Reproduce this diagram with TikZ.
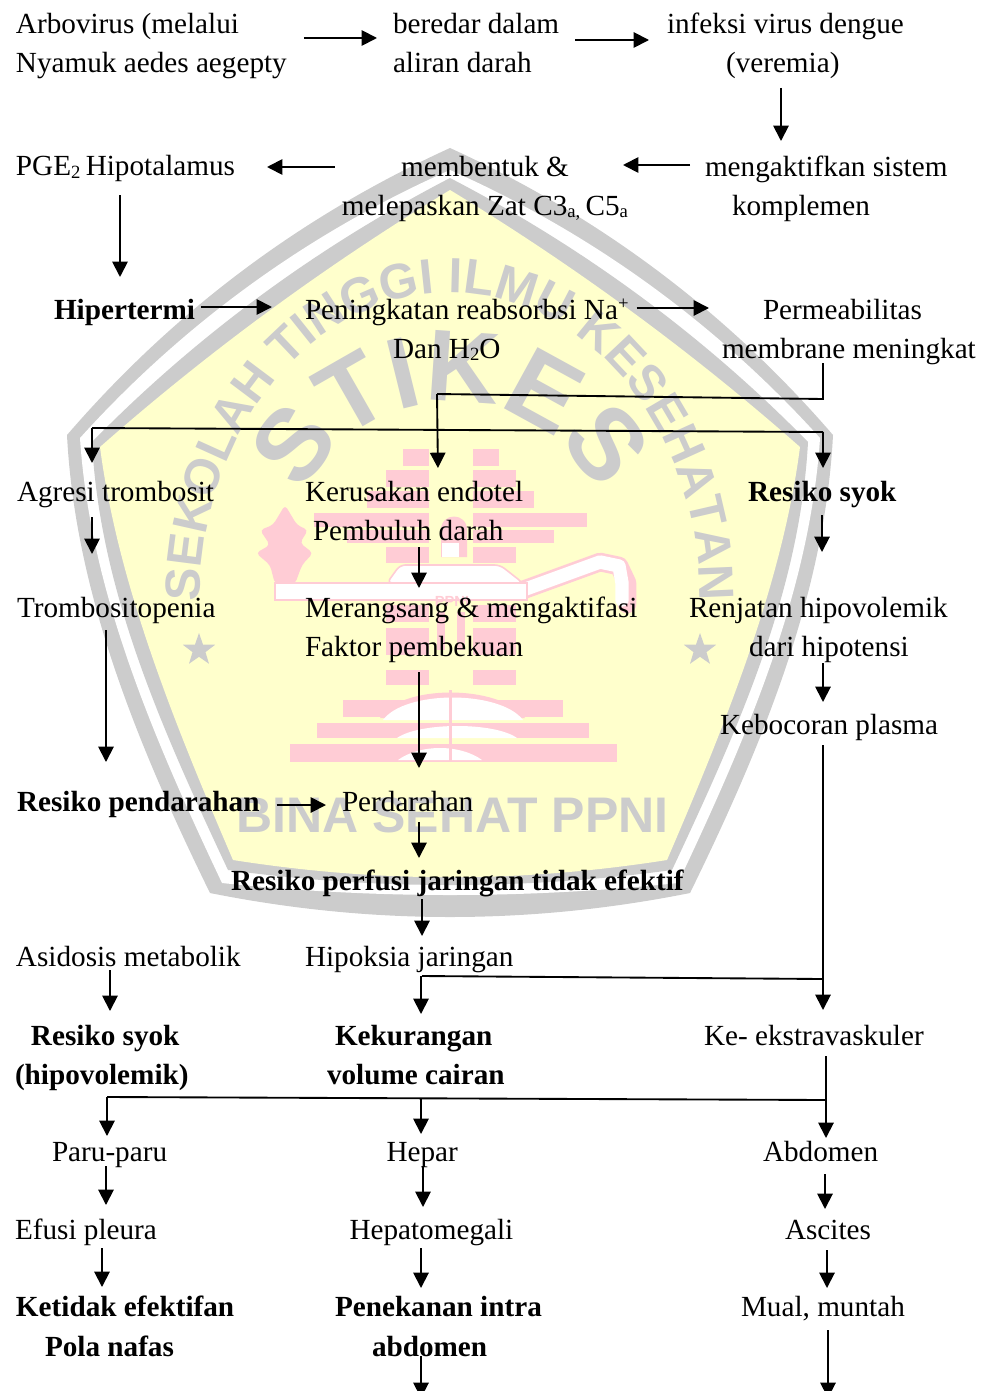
\documentclass[tikz,border=0pt]{standalone}
\usepackage{fontspec}
\setmainfont{Liberation Serif}
\newfontfamily\wmsans{Liberation Sans}
\usetikzlibrary{arrows.meta,decorations.text,shapes.geometric}
\definecolor{wmgray}{HTML}{CCCCCC}
\definecolor{wmyellow}{HTML}{FFFFCC}
\definecolor{wmpink}{HTML}{FFCCD5}
\newcommand\mf{\fontsize{21.9pt}{29.25pt}\selectfont}
\newcommand\nl{\\\strut}
\newcommand\lo[1]{\raisebox{-2.2pt}{\fontsize{14pt}{14pt}\selectfont #1}}
\newcommand\hi[1]{\raisebox{7.5pt}{\fontsize{14pt}{14pt}\selectfont #1}}
\newcommand\wmarc{\wmsans\bfseries\fontsize{37pt}{37pt}\selectfont\color{wmgray}}
\newcommand\wmbig{\wmsans\bfseries\fontsize{76pt}{76pt}\selectfont\color{wmgray}}
\tikzset{
  x=0.75pt,y=-0.75pt,
  tl/.style={inner sep=0pt,outer sep=0pt,anchor=north west,align=left,font=\mf,execute at begin node=\strut},
  tc/.style={inner sep=0pt,outer sep=0pt,anchor=north,align=center,font=\mf,execute at begin node=\strut},
  bf/.style={font=\mf\bfseries},
  conn/.style={line width=1.4pt,black},
  arr/.style={conn,-{Triangle[length=11.5pt,width=11.5pt]}},
  sa/.style={shorten <=#1*0.75pt},
  sb/.style={shorten >=#1*0.75pt},
  brick/.style={fill=wmpink,draw=none},
  starmark/.style={star,star points=5,star point ratio=2.5,fill=wmgray,draw=none,minimum size=34*0.75pt,inner sep=0pt}
}
\begin{document}
\begin{tikzpicture}
\useasboundingbox (0,0) rectangle (984,1391);
% ---------- watermark: pentagon, four nested layers ----------
\fill[wmgray] (450,148) .. controls (301,216) and (174,311) .. (67,435)
  .. controls (75,590) and (135,740) .. (210,893)
  .. controls (370,925) and (530,925) .. (690,893)
  .. controls (765,740) and (825,590) .. (833,435)
  .. controls (726,311) and (599,216) .. (450,148) -- cycle;
\fill[white] (450,170) .. controls (308,233) and (184,323) .. (80,438)
  .. controls (90,590) and (152,735) .. (222,883)
  .. controls (375,899) and (525,899) .. (678,883)
  .. controls (748,735) and (810,590) .. (820,438)
  .. controls (716,323) and (592,233) .. (450,170) -- cycle;
\fill[wmgray] (450,178) .. controls (317,247) and (197,335) .. (92,442)
  .. controls (100,590) and (160,725) .. (228,870)
  .. controls (375,890) and (525,890) .. (672,870)
  .. controls (740,725) and (800,590) .. (808,442)
  .. controls (703,335) and (583,247) .. (450,178) -- cycle;
\fill[wmyellow] (450,190) .. controls (325,266) and (209,351) .. (100,447)
  .. controls (118,585) and (175,725) .. (233,860)
  .. controls (380,883) and (520,883) .. (667,860)
  .. controls (725,725) and (782,585) .. (800,447)
  .. controls (691,351) and (575,266) .. (450,190) -- cycle;
% ---------- watermark: gray lettering ----------
\path[decorate,decoration={text along path,text align=center,
  text={|\wmarc|SEKOLAH TINGGI ILMU KESEHATAN}}]
  (203,650) -- (200,600) .. controls (200,430) and (312,293) .. (450,293)
  .. controls (588,293) and (700,430) .. (700,600) -- (697,650);
\path[decorate,decoration={text along path,text align=center,
  text={|\wmbig|STIKES}}]
  (287,565) .. controls (287,475) and (360,402) .. (450,402)
  .. controls (540,402) and (613,475) .. (613,565);
\node[font=\wmsans\bfseries\fontsize{37.5pt}{37.5pt}\selectfont,text=wmgray,inner sep=0pt] (wmbina) at (452.5,815) {BINA SEHAT PPNI};
\node[starmark] (wmstarl) at (199,650) {};
\node[starmark] (wmstarr) at (700,650) {};
% ---------- watermark: pink emblem ----------
\foreach \xa/\xb/\ya/\yb in {403/429/449/466,473/499/449/466,386/429/470/487,473/516/470/487,
  367/429/491/508,473/534/491/508,314/429/513/527,473/587/513/527,347/429/530/543,473/554/530/543,
  386/429/547/563,473/516/547/563,386/429/605/622,473/516/605/622,386/429/628/655,473/516/628/655,
  386/429/670/685,473/516/670/685,437/445/612/650,457/465/612/650}
  {\fill[brick] (\xa,\ya) rectangle (\xb,\yb);}
\fill[brick] (441,557) -- (441,530) .. controls (441,512) and (467,512) .. (467,530) -- (467,557) -- cycle;
\fill[white] (442,557) -- (442,543) -- (459,543) -- (459,557) -- cycle;
% flame
\fill[wmpink,rounded corners=3pt] (285,505) -- (297,525) -- (308,530) -- (300,543) -- (313,553) -- (302,565)
  -- (295,584) -- (275,584) -- (270,565) -- (256,553) -- (270,545) -- (260,530) -- (273,525) -- cycle;
% lamp
\draw[wmpink,line width=14pt,line cap=round,line join=round] (523,590) -- (600,562) -- (619,566) -- (627,583) -- (627,604);
\draw[white,line width=10pt,line cap=round,line join=round] (523,590) -- (600,562) -- (619,566) -- (622,583) -- (622,600);
\fill[white,draw=wmpink,line width=1.2pt,rounded corners=4pt] (387,583) -- (400,565) -- (500,565) -- (523,583) -- cycle;
\fill[white,draw=wmpink,line width=1.2pt] (275,583) rectangle (527,600);
\node[font=\wmsans\bfseries\fontsize{11pt}{11pt}\selectfont,text=wmpink,inner sep=0pt] (wmppni) at (452,601) {PPNI};
% temple base
\fill[brick] (343,700) rectangle (563,717);
\fill[brick] (317,723) rectangle (589,738);
\fill[brick] (290,744) rectangle (617,762);
\fill[brick] (380,718) .. controls (400,684) and (500,684) .. (525,718) -- cycle;
\fill[white] (383,720) .. controls (405,690) and (500,690) .. (523,720) -- cycle;
\fill[white] (397,738) .. controls (420,722) and (495,722) .. (517,738) -- cycle;
\fill[white] (398,760) .. controls (420,744) and (460,744) .. (482,760) -- cycle;
\fill[brick] (449,690) rectangle (452,762);
% ---------- text ----------
\node[tl] (a) at (16,6.7) {\strut Arbovirus (melalui\nl Nyamuk aedes aegepty};
\node[tl] (b) at (393,6.7) {\strut beredar dalam\nl aliran darah};
\node[tl] (c) at (667,6.7) {\strut infeksi virus dengue\nl\hspace*{44.25pt}(veremia)};
\node[tl] (d) at (705,148.7) {\strut mengaktifkan sistem\nl\hspace*{20.25pt}komplemen};
\node[tc] (e) at (485,148.7) {\strut membentuk \&\nl melepaskan Zat C3\lo{a,}\hspace{-1.5pt} C5\lo{a}};
\node[tl] (f) at (16,148.7) {PGE\lo{2}\hspace{-1.5pt} Hipotalamus};
\node[tl,bf] (g) at (54,291.7) {Hipertermi};
\node[tl] (h) at (305,291.7) {\strut Peningkatan reabsorbsi Na\hi{+}\nl\hspace*{66pt}Dan H\lo{2}O};
\node[tl] (i) at (722,291.7) {\strut\hspace*{30.75pt}Permeabilitas\nl membrane meningkat};
\node[tl] (l) at (17,473.7) {Agresi trombosit};
\node[tl] (k) at (305,473.7) {\strut Kerusakan endotel\nl\hspace*{6pt}Pembuluh darah};
\node[tl,bf] (m) at (748,473.7) {Resiko syok};
\node[tl] (n) at (17,589.7) {Trombositopenia};
\node[tl] (o) at (305,589.7) {\strut Merangsang \& mengaktifasi\nl Faktor pembekuan};
\node[tl] (p) at (689,589.7) {\strut Renjatan hipovolemik\nl\hspace*{45pt}dari hipotensi};
\node[tl] (q) at (720,706.7) {Kebocoran plasma};
\node[tl,bf] (r) at (17,783.7) {Resiko pendarahan};
\node[tl] (s) at (342,783.7) {Perdarahan};
\node[tl,bf] (t) at (231,862.7) {Resiko perfusi jaringan tidak efektif};
\node[tl] (u) at (16,938.7) {Asidosis metabolik};
\node[tl] (v) at (305,938.7) {Hipoksia jaringan};
\node[tl,bf] (w) at (15,1017.7) {\strut\hspace*{12pt}Resiko syok\nl (hipovolemik)};
\node[tl,bf] (x) at (327,1017.7) {\strut\hspace*{6pt}Kekurangan\nl volume cairan};
\node[tl] (y) at (704,1017.7) {Ke- ekstravaskuler};
\node[tl] (z1) at (52,1133.7) {Paru-paru};
\node[tl] (z2) at (386.5,1133.7) {Hepar};
\node[tl] (z3) at (763,1133.7) {Abdomen};
\node[tl] (e1) at (15,1211.7) {Efusi pleura};
\node[tl] (e2) at (349.5,1211.7) {Hepatomegali};
\node[tl] (e3) at (785,1211.7) {Ascites};
\node[tl,bf] (f1) at (16,1288.7) {\strut Ketidak efektifan\\[0.75pt]\strut\hspace*{21.75pt}Pola nafas};
\node[tl,bf] (f2) at (335,1288.7) {\strut Penekanan intra\\[0.75pt]\strut\hspace*{27.75pt}abdomen};
\node[tl] (f3) at (741,1288.7) {Mual, muntah};
% ---------- junctions ----------
\coordinate (j1) at (823,399);
\coordinate (j2) at (437,394);
\coordinate (j3) at (92,428);
\coordinate (j4) at (823,432);
\coordinate (j5) at (422,976);
\coordinate (j6) at (823,979);
\coordinate (j7) at (107,1097);
\coordinate (j8) at (826,1100);
\coordinate (end1) at (421,1398);
\coordinate (end2) at (828,1398);
% ---------- connectors ----------
\draw[arr,sa=17,sb=16] (a.east |- 0,38) -- (b.west |- 0,38);
\draw[arr,sa=16,sb=18] (b.east |- 0,40) -- (c.west |- 0,40);
\draw[arr,sa=3.3,sb=7.7] (c.south -| 781,0) -- (d.north -| 781,0);
\draw[arr,sa=15,sb=-5] (d.west |- 0,165) -- (e.east |- 0,165);
\draw[arr,sa=7,sb=32] (e.west |- 0,167) -- (f.east |- 0,167);
\draw[arr,sa=7.3,sb=14.7] (f.south -| 120,0) -- (g.north -| 120,0);
\draw[arr,sa=6,sb=33] (g.east |- 0,307) -- (h.west |- 0,307);
\draw[arr,sa=8,sb=13] (h.east |- 0,308) -- (i.west |- 0,308);
\draw[conn,sa=-6.7] (i.south -| j1) -- (j1) -- (j2);
\draw[arr,sb=5.7] (j2) -- (k.north -| 438,0);
\draw[conn] (j3) -- (j4);
\draw[arr,sb=10.7] (j3) -- (l.north -| j3);
\draw[arr,sb=5.7] (j4) -- (m.north -| j4);
\draw[arr,sa=4.3,sb=35.7] (l.south -| 92,0) -- (n.north -| 92,0);
\draw[arr,sa=-4.7,sb=1.7] (k.south -| 419,0) -- (o.north -| 419,0);
\draw[arr,sa=2.3,sb=37.7] (m.south -| 822,0) -- (p.north -| 822,0);
\draw[arr,sa=1.3,sb=21.7] (n.south -| 106,0) -- (r.north -| 106,0);
\draw[arr,sa=4.3,sb=15.7] (o.south -| 419,0) -- (s.north -| 419,0);
\draw[arr,sa=-4.7,sb=4.7] (p.south -| 823,0) -- (q.north -| 823,0);
\draw[arr,sa=17,sb=16] (r.east |- 0,805) -- (s.west |- 0,805);
\draw[arr,sa=-0.7,sb=4.7] (s.south -| 419,0) -- (t.north -| 419,0);
\draw[arr,sa=-2.7,sb=2.7] (t.south -| 422,0) -- (v.north -| 422,0);
\draw[arr,sa=-0.7,sb=7.7] (q.south -| 823,0) -- (y.north -| 823,0);
\draw[conn] (j5) -- (j6);
\draw[arr,sa=-1.7,sb=3.7] (v.south -| 421,0) -- (x.north -| 421,0);
\draw[arr,sa=-7.7,sb=6.7] (u.south -| 110,0) -- (w.north -| 110,0);
\draw[arr,sa=-0.7,sb=-4.3] (y.south -| 826,0) -- (z3.north -| 826,0);
\draw[conn] (j7) -- (j8);
\draw[arr,sb=-2.3] (j7) -- (z1.north -| j7);
\draw[arr,sa=2.3,sb=-0.3] (x.south -| 421,0) -- (z2.north -| 421,0);
\draw[arr,sa=-6.7,sb=6.7] (z1.south -| 106,0) -- (e1.north -| 106,0);
\draw[arr,sa=-6.7,sb=4.7] (z2.south -| 423,0) -- (e2.north -| 423,0);
\draw[arr,sa=1.7,sb=2.7] (z3.south -| 825,0) -- (e3.north -| 825,0);
\draw[arr,sa=-2.7,sb=1.7] (e1.south -| 102,0) -- (f1.north -| 102,0);
\draw[arr,sa=-2.7,sb=0.7] (e2.south -| 421,0) -- (f2.north -| 421,0);
\draw[arr,sa=-0.7,sb=0.7] (e3.south -| 827,0) -- (f3.north -| 827,0);
\draw[arr,sa=-11.7] (f2.south -| end1) -- (end1);
\draw[arr,sa=2.3] (f3.south -| end2) -- (end2);
\end{tikzpicture}
\end{document}
